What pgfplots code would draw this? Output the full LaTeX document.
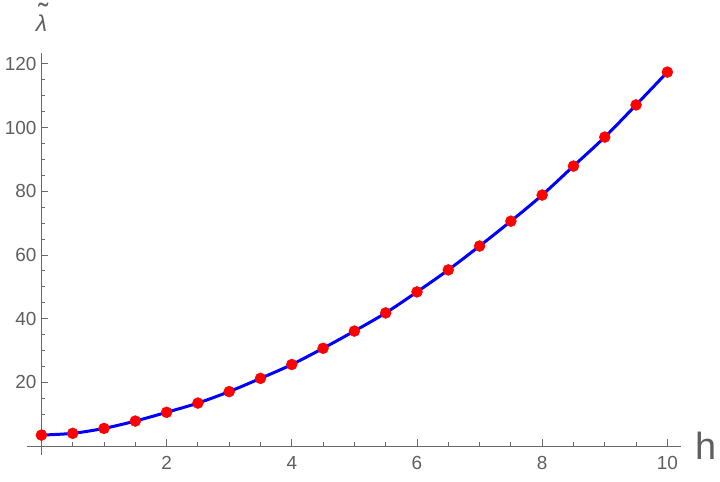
\documentclass[border=0pt]{standalone}
\usepackage{pgfplots}
\pgfplotsset{compat=1.18}
\usepackage{fontspec}
\setmainfont{Liberation Sans}

\definecolor{axgray}{RGB}{105,105,105}
\definecolor{lblgray}{RGB}{95,95,95}

\pgfplotstableread{
h    lam
0    3.45
0.5  4.0
1    5.55
1.5  7.85
2    10.6
2.5  13.5
3    17.1
3.5  21.25
4    25.6
4.5  30.7
5    36.1
5.5  41.8
6    48.4
6.5  55.3
7    62.8
7.5  70.6
8    78.8
8.5  87.9
9    97.0
9.5  107.1
10   117.4
}\datatable

\begin{document}
\begin{tikzpicture}
\begin{axis}[
    scale only axis,
    width=653.5bp, height=402bp,
    xmin=-0.23, xmax=10.21,
    ymin=-2.8, ymax=123.4,
    axis lines=middle,
    axis line style={axgray, line width=0.9bp, -},
    tick align=inside,
    tick style={axgray, line width=0.8bp},
    major tick length=7bp,
    minor tick length=4bp,
    xtick={0,2,4,6,8,10},
    xticklabels={,2,4,6,8,10},
    ytick={0,20,40,60,80,100,120},
    yticklabels={,20,40,60,80,100,120},
    minor x tick num=3,
    minor y tick num=3,
    /pgf/number format/assume math mode=true,
    tick label style={font=\fontsize{19}{22}\selectfont, text=lblgray},
    xticklabel style={yshift=-7bp},
    yticklabel style={xshift=-1.5bp},
    xlabel={h},
    every axis x label/.style={at={(axis cs:10.21,0)}, anchor=west, inner sep=0pt,
        xshift=15bp, font=\fontsize{38}{40}\selectfont, text=lblgray},
    clip=false,
]
\addplot[only marks, mark=*, mark size=5.5bp, color=red, mark options={fill=red, draw=red}]
    table[x=h, y=lam] {\datatable};
\addplot[smooth, color=blue, line width=3bp, no marks]
    table[x=h, y=lam] {\datatable};
% y label: slanted sans lambda with a tilde over it
\node[anchor=base, inner sep=0pt, text=lblgray, yshift=21bp,
      font=\fontsize{23}{26}\selectfont\itshape]
    at (axis cs:0,123.4) {λ};
\node[anchor=north, inner sep=0pt, text=lblgray, yshift=50bp, xshift=2bp,
      font=\fontsize{30}{32}\selectfont]
    at (axis cs:0,123.4) {˜};
\end{axis}
\pgfresetboundingbox
\useasboundingbox (-27bp,-27bp) rectangle (693bp,455bp);
\end{tikzpicture}
\end{document}
